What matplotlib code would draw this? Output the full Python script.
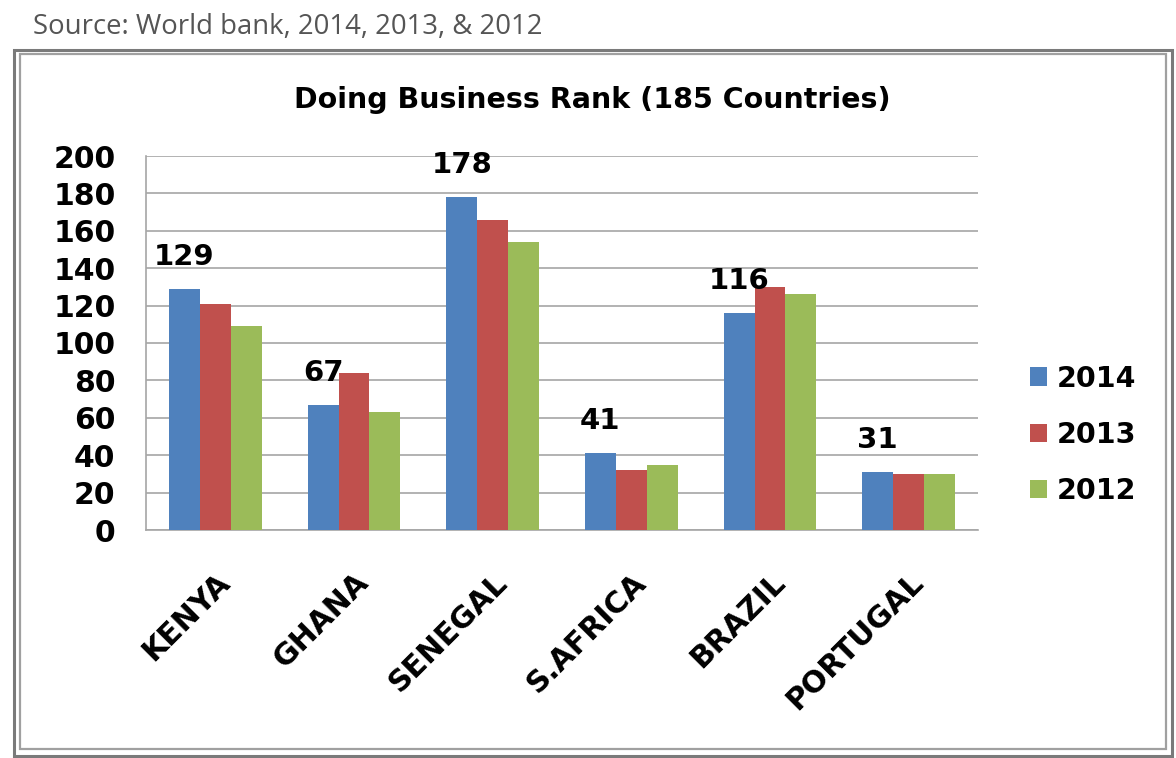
import matplotlib
matplotlib.use("Agg")
import matplotlib.pyplot as plt
import numpy as np
from matplotlib.patches import Rectangle

plt.rcParams["font.family"] = ["DejaVu Sans"]

countries = ["KENYA", "GHANA", "SENEGAL", "S.AFRICA", "BRAZIL", "PORTUGAL"]
years = ["2014", "2013", "2012"]
rank_2014 = [129, 67, 178, 41, 116, 31]
rank_2013 = [121, 84, 166, 32, 130, 30]
rank_2012 = [109, 63, 154, 35, 126, 30]
yticks = [0, 20, 40, 60, 80, 100, 120, 140, 160, 180, 200]

colors = ["#4F81BD", "#C0504D", "#9BBB59"]

W, H = 1176, 758
fig = plt.figure(figsize=(W / 100, H / 100), dpi=100)
fig.patch.set_facecolor("white")

# frame
fig.patches.append(Rectangle((14 / W, 1 - 756 / H), (1172 - 14) / W, (756 - 50) / H,
                             transform=fig.transFigure, fill=False, edgecolor="#7a7a7a", linewidth=2.2))
fig.patches.append(Rectangle((19.5 / W, 1 - 749 / H), (1166 - 19.5) / W, (749 - 53.5) / H,
                             transform=fig.transFigure, fill=False, edgecolor="#a0a0a0", linewidth=1.6))

fig.text(33 / W, 1 - 27 / H, "Source: World bank, 2014, 2013, & 2012", fontsize=19.8,
         color="#555555", va="center", ha="left", family="Open Sans")

fig.text(592 / W, 1 - 100 / H, "Doing Business Rank (185 Countries)", fontsize=20.5,
         fontweight="bold", ha="center", va="center")

ax = fig.add_axes([146 / W, 1 - 530 / H, (978 - 146) / W, (530 - 156) / H])
x = np.arange(len(countries))
bw = 0.223
series = [rank_2014, rank_2013, rank_2012]
bars = []
for i, (vals, c, yr) in enumerate(zip(series, colors, years)):
    b = ax.bar(x + (i - 1) * bw, vals, width=bw, color=c, label=yr, zorder=3)
    bars.append(b)

for rect, v in zip(bars[0], rank_2014):
    ax.annotate(str(v), (rect.get_x() + rect.get_width() / 2, v), xytext=(0, 13),
                textcoords="offset points", ha="center", va="bottom",
                fontsize=21, fontweight="bold", zorder=4)

ax.set_xlim(-0.5, len(countries) - 0.5)
ax.set_ylim(0, 200)
ax.set_yticks(yticks)
ax.set_yticklabels([str(t) for t in yticks], fontsize=21.5, fontweight="bold")
ax.yaxis.grid(True, color="#a6a6a6", linewidth=1.2, zorder=0)
ax.set_axisbelow(True)
for s in ["top", "right"]:
    ax.spines[s].set_visible(False)
ax.spines["left"].set_color("#a6a6a6")
ax.spines["bottom"].set_color("#a6a6a6")
ax.spines["left"].set_linewidth(1.2)
ax.spines["bottom"].set_linewidth(1.2)
ax.tick_params(axis="y", length=0, pad=22)
ax.tick_params(axis="x", length=0, pad=27)
ax.set_xticks(x)
ax.set_xticklabels(countries, rotation=45, ha="right", rotation_mode="anchor",
                   fontsize=21.5, fontweight="bold")

leg = fig.legend(handles=bars, labels=years, loc="center left",
                 bbox_to_anchor=(1004 / W, 1 - 435 / H), frameon=False,
                 prop={"size": 20.5, "weight": "bold"}, handlelength=0.6, handleheight=0.6,
                 handletextpad=0.35, labelspacing=1.0)

fig.savefig("out.png", dpi=100)
